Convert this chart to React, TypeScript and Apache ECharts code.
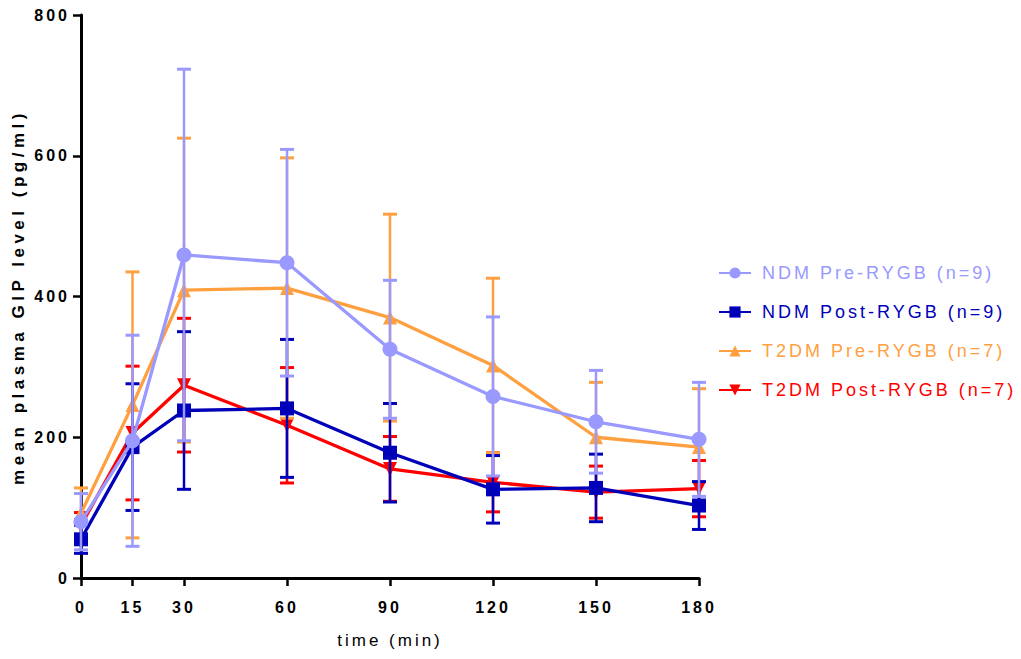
import React, { useEffect, useRef } from "react";
import * as echarts from "echarts";

const times = [0, 15, 30, 60, 90, 120, 150, 180];
const xTicks = [0, 15, 30, 60, 90, 120, 150, 180];

const seriesNames = [
  "NDM Pre-RYGB (n=9)",
  "NDM Post-RYGB (n=9)",
  "T2DM Pre-RYGB (n=7)",
  "T2DM Post-RYGB (n=7)",
];
const seriesColors = ["#9999ff", "#0000b8", "#ffa040", "#ff0000"];

const ndmPreMean = [80, 195, 459, 448, 325, 258, 222, 197];
const ndmPreSD = [40, 150, 264, 161, 98, 113, 73, 81];
const ndmPostMean = [55, 186, 238, 241, 178, 126, 128, 103];
const ndmPostSD = [20, 90, 112, 98, 70, 48, 48, 34];
const t2dmPreMean = [92, 246, 409, 412, 370, 302, 200, 186];
const t2dmPreSD = [36, 189, 216, 185, 147, 124, 78, 83];
const t2dmPostMean = [75, 206, 274, 217, 155, 136, 122, 127];
const t2dmPostSD = [18, 95, 95, 82, 46, 42, 37, 40];

const means = [ndmPreMean, ndmPostMean, t2dmPreMean, t2dmPostMean];
const sds = [ndmPreSD, ndmPostSD, t2dmPreSD, t2dmPostSD];
const symbols = ["circle", "rect", "triangle", "triangle"];
const symbolRotates = [0, 0, 0, 180];

const FONT = "'Liberation Sans', Arial, sans-serif";

export default function App() {
  const ref = useRef<HTMLDivElement>(null);

  useEffect(() => {
    if (!ref.current) return;
    document.body.style.margin = "0";
    const chart = echarts.init(ref.current, undefined, { renderer: "svg" });

    const series: any[] = [];
    seriesNames.forEach((name, i) => {
      const color = seriesColors[i];
      const zBase = 10 - i * 2;
      series.push({
        name: name + " SD",
        type: "custom",
        z: zBase - 1,
        silent: true,
        data: times.map((t, k) => [t, means[i][k] - sds[i][k], means[i][k] + sds[i][k]]),
        encode: { x: 0, y: [1, 2] },
        renderItem: (params: any, api: any) => {
          const x = api.value(0);
          const pLo = api.coord([x, api.value(1)]);
          const pHi = api.coord([x, api.value(2)]);
          const w = 7;
          return {
            type: "group",
            children: [
              {
                type: "line",
                shape: { x1: pHi[0], y1: pHi[1], x2: pLo[0], y2: pLo[1] },
                style: { stroke: color, lineWidth: 2.5 },
              },
              {
                type: "line",
                shape: { x1: pHi[0] - w, y1: pHi[1], x2: pHi[0] + w, y2: pHi[1] },
                style: { stroke: color, lineWidth: 3 },
              },
              {
                type: "line",
                shape: { x1: pLo[0] - w, y1: pLo[1], x2: pLo[0] + w, y2: pLo[1] },
                style: { stroke: color, lineWidth: 3 },
              },
            ],
          };
        },
      });
      series.push({
        name,
        type: "line",
        z: zBase,
        data: times.map((t, k) => [t, means[i][k]]),
        symbol: symbols[i],
        symbolRotate: symbolRotates[i],
        symbolSize: i === 0 ? 15 : 14,
        showSymbol: true,
        clip: false,
        lineStyle: { color, width: 3.3 },
        itemStyle: { color },
      });
    });

    chart.setOption({
      animation: false,
      backgroundColor: "#ffffff",
      grid: { left: 81, right: 322, top: 15, bottom: 81 },
      xAxis: {
        type: "value",
        min: 0,
        max: 180,
        axisLine: { show: true, onZero: false, lineStyle: { color: "#000", width: 3 } },
        axisTick: {
          show: true,
          customValues: xTicks,
          length: 8,
          lineStyle: { color: "#000", width: 2.5 },
        },
        axisLabel: {
          customValues: xTicks,
          margin: 21,
          color: "#000",
          fontSize: 16,
          fontWeight: "bold",
          fontFamily: FONT,
        },
        splitLine: { show: false },
      },
      yAxis: {
        type: "value",
        min: 0,
        max: 800,
        interval: 200,
        axisLine: { show: true, onZero: false, lineStyle: { color: "#000", width: 3 } },
        axisTick: { show: true, length: 8, lineStyle: { color: "#000", width: 2.5 } },
        axisLabel: {
          margin: 11,
          color: "#000",
          fontSize: 16,
          fontWeight: "bold",
          fontFamily: FONT,
        },
        splitLine: { show: false },
      },
      legend: {
        orient: "vertical",
        left: 713,
        top: 258,
        itemWidth: 32,
        itemHeight: 14,
        itemGap: 19,
        data: seriesNames.map((n, i) => ({
          name: n,
          textStyle: { color: seriesColors[i] },
        })),
        textStyle: {
          fontSize: 18,
          fontFamily: FONT,
          lineHeight: 20,
          padding: [0, 0, 0, 6],
        },
      },
      graphic: [
        {
          type: "text",
          x: 18,
          y: 297,
          rotation: Math.PI / 2,
          style: {
            text: "mean plasma GIP level (pg/ml)",
            align: "center",
            verticalAlign: "middle",
            fontSize: 17,
            fontWeight: "bold",
            fontFamily: FONT,
            fill: "#000",
          },
        },
        {
          type: "text",
          x: 390,
          y: 640,
          style: {
            text: "time (min)",
            align: "center",
            verticalAlign: "middle",
            fontSize: 17,
            fontWeight: "normal",
            fontFamily: FONT,
            fill: "#000",
          },
        },
      ],
      series,
    });

    // widen letter spacing to match the reference typography
    const texts = ref.current.querySelectorAll("text");
    texts.forEach((el) => {
      const t = el.textContent || "";
      let sp = 0;
      if (/^\d+$/.test(t)) sp = 3;
      else if (t.indexOf("RYGB") >= 0) sp = 3;
      else if (t.indexOf("plasma") >= 0) sp = 4.5;
      else if (t.indexOf("time") >= 0) sp = 3;
      if (sp) el.setAttribute("letter-spacing", sp + "px");
    });

    return () => chart.dispose();
  }, []);

  return <div ref={ref} style={{ width: 1021, height: 659 }} />;
}
